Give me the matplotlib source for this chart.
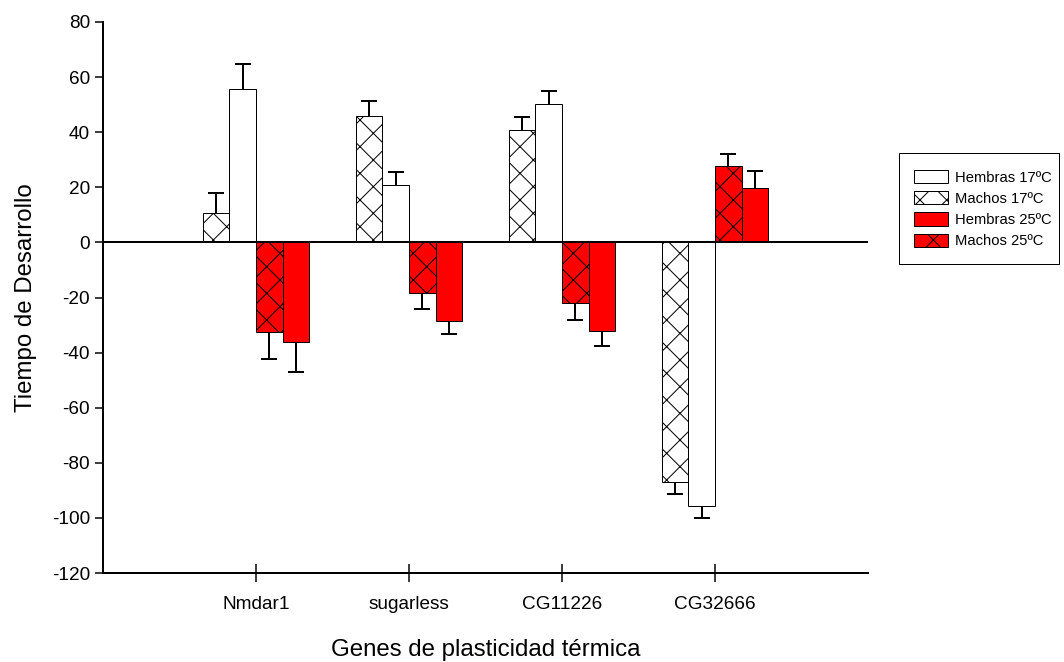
import matplotlib
matplotlib.use("Agg")
import matplotlib.pyplot as plt
import numpy as np
from matplotlib.patches import Patch, Rectangle

# ---- data ----
genes = ['Nmdar1', 'sugarless', 'CG11226', 'CG32666']
machos17 = [10.5, 45.7, 40.7, -87.1]
machos17_err = [7.6, 5.5, 4.7, 4.4]
hembras17 = [55.5, 21.0, 50.1, -95.8]
hembras17_err = [9.1, 4.4, 4.7, 4.2]
machos25 = [-32.7, -18.5, -22.1, 27.6]
machos25_err = [9.8, 5.8, 5.9, 4.4]
hembras25 = [-36.3, -28.7, -32.3, 19.6]
hembras25_err = [10.9, 4.7, 5.4, 6.4]
yticks = [80, 60, 40, 20, 0, -20, -40, -60, -80, -100, -120]

DPI = 160
PX = 72.0 / DPI  # points per pixel
plt.rcParams['font.family'] = ['Liberation Sans', 'DejaVu Sans']
plt.rcParams['hatch.color'] = 'black'
plt.rcParams['hatch.linewidth'] = 1.0 * PX
plt.rcParams['axes.unicode_minus'] = False

fig = plt.figure(figsize=(1064 / DPI, 662 / DPI), dpi=DPI)
ax = fig.add_axes([103 / 1064, 1 - 573 / 662, (868 - 103) / 1064, (573 - 22) / 662])

x = np.arange(len(genes))
w = 0.174
HATCH = 'xx'
series = [
    (machos17, machos17_err, 'white', HATCH, -1.5),
    (hembras17, hembras17_err, 'white', '', -0.5),
    (machos25, machos25_err, 'red', HATCH, 0.5),
    (hembras25, hembras25_err, 'red', '', 1.5),
]
for vals, errs, col, hatch, off in series:
    vals = np.array(vals)
    errs = np.array(errs)
    xs = x + off * w
    ax.bar(xs, vals, width=w, color=col, edgecolor='black', hatch=hatch,
           linewidth=1.0 * PX, zorder=2)
    tips = vals + np.sign(vals) * errs
    ax.vlines(xs, vals, tips, color='black', linewidth=2.0 * PX, zorder=3)
    ax.plot(xs, tips, linestyle='none', marker='_', markersize=16 * PX,
            markeredgewidth=2.0 * PX, color='black', zorder=3)

ax.axhline(0, color='black', linewidth=2.0 * PX, zorder=4)
ax.set_xlim(-1.0, 4.0)
ax.set_ylim(-120, 80)
ax.set_yticks(yticks)
ax.set_xticks(x)
ax.set_xticklabels(genes)
for s in ['top', 'right']:
    ax.spines[s].set_visible(False)
for s in ['left', 'bottom']:
    ax.spines[s].set_linewidth(2.0 * PX)
ax.tick_params(axis='y', direction='out', length=8 * PX, width=1.5 * PX,
               labelsize=19 * PX, pad=5 * PX)
ax.tick_params(axis='x', direction='inout', length=18 * PX, width=1.5 * PX,
               labelsize=19 * PX, pad=14 * PX)
ax.set_ylabel('Tiempo de Desarrollo', fontsize=24 * PX, labelpad=15 * PX)
ax.set_xlabel('Genes de plasticidad térmica', fontsize=24 * PX, labelpad=26 * PX)

handles = [
    Patch(facecolor='white', edgecolor='black', linewidth=1.0 * PX, label='Hembras 17ºC'),
    Patch(facecolor='white', edgecolor='black', hatch=HATCH, linewidth=1.0 * PX, label='Machos 17ºC'),
    Patch(facecolor='red', edgecolor='black', linewidth=1.0 * PX, label='Hembras 25ºC'),
    Patch(facecolor='red', edgecolor='black', hatch=HATCH, linewidth=1.0 * PX, label='Machos 25ºC'),
]
leg = fig.legend(handles=handles, loc='upper left',
                 bbox_to_anchor=(914 / 1064, 1 - 170 / 662),
                 fontsize=14.7 * PX, frameon=False,
                 handlelength=2.3, handleheight=1.0,
                 labelspacing=0.45, borderpad=0, handletextpad=0.5,
                 borderaxespad=0)
fig.add_artist(Rectangle((899 / 1064, 1 - 264 / 662), 160 / 1064, 111 / 662,
                         transform=fig.transFigure, fill=False,
                         edgecolor='black', linewidth=1.0 * PX))

fig.savefig('out.png', dpi=DPI)
